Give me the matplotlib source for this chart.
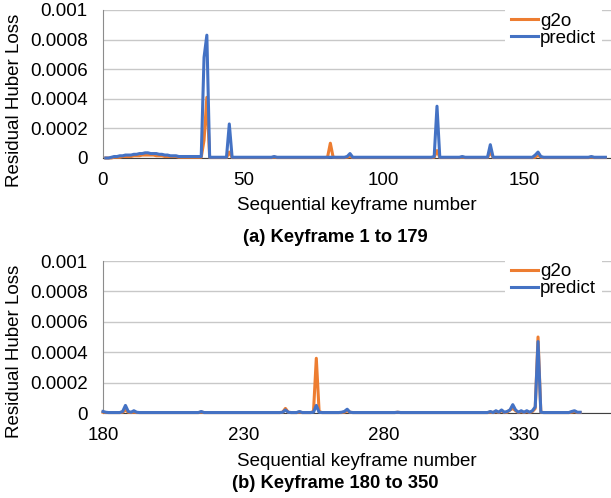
"""Residual Huber loss per keyframe: g2o vs predict, two panels."""

import matplotlib
matplotlib.use("Agg")
import matplotlib.pyplot as plt
import numpy as np

# values are in units of 1e-5
SCALE = 1e-5

top_keyframes = np.arange(1, 180)
top_g2o = [
    0, 0, 0, 0.5, 0.5, 0.5, 1, 1, 1, 1,
    1.5, 1.5, 1.5, 2, 2, 2, 2, 2, 1.5, 1.5,
    1.5, 1, 1, 1, 1, 1, 0.5, 0.5, 0.5, 0.5,
    0.5, 0.5, 0.5, 0.5, 0.5, 12, 41, 0.3, 0.3, 0.3,
    0.3, 0.3, 0.3, 0.3, 4, 0.3, 0.3, 0.3, 0.3, 0.3,
    0.3, 0.3, 0.3, 0.3, 0.3, 0.3, 0.3, 0.3, 0.3, 0.3,
    0.5, 0.3, 0.3, 0.3, 0.3, 0.3, 0.3, 0.3, 0.3, 0.3,
    0.3, 0.3, 0.3, 0.3, 0.3, 0.3, 0.3, 0.3, 0.3, 0.5,
    10, 0.5, 0.3, 0.3, 0.3, 0.3, 0.5, 1, 0.3, 0.3,
    0.3, 0.3, 0.3, 0.3, 0.3, 0.3, 0.3, 0.3, 0.3, 0.3,
    0.3, 0.3, 0.3, 0.3, 0.3, 0.3, 0.3, 0.3, 0.3, 0.3,
    0.3, 0.3, 0.3, 0.3, 0.3, 0.3, 0.3, 0.5, 5, 0.3,
    0.3, 0.3, 0.3, 0.3, 0.3, 0.3, 0.3, 0.5, 0.3, 0.3,
    0.3, 0.3, 0.3, 0.3, 0.3, 0.3, 0.3, 4, 0.3, 0.3,
    0.3, 0.3, 0.3, 0.3, 0.3, 0.3, 0.3, 0.3, 0.3, 0.3,
    0.3, 0.3, 0.3, 0.5, 2, 0.5, 0.3, 0.3, 0.3, 0.3,
    0.3, 0.3, 0.3, 0.3, 0.3, 0.3, 0.3, 0.3, 0.3, 0.3,
    0.3, 0.3, 0.3, 0.5, 0.3, 0.3, 0.3, 0.3, 0.3,
]
top_predict = [
    0, 0, 0.5, 1, 1, 1.5, 1.5, 2, 2, 2,
    2.5, 2.5, 3, 3, 3.5, 3.5, 3, 3, 3, 2.5,
    2.5, 2, 2, 1.5, 1.5, 1.5, 1, 1, 1, 1,
    1, 1, 1, 1, 1, 68, 83, 0.5, 0.5, 0.5,
    0.5, 0.5, 0.5, 0.5, 23, 0.5, 0.5, 0.5, 0.5, 0.5,
    0.5, 0.5, 0.5, 0.5, 0.5, 0.5, 0.5, 0.5, 0.5, 0.5,
    1, 0.5, 0.5, 0.5, 0.5, 0.5, 0.5, 0.5, 0.5, 0.5,
    0.5, 0.5, 0.5, 0.5, 0.5, 0.5, 0.5, 0.5, 0.5, 0.5,
    0.5, 0.5, 0.5, 0.5, 0.5, 0.5, 1, 3, 0.5, 0.5,
    0.5, 0.5, 0.5, 0.5, 0.5, 0.5, 0.5, 0.5, 0.5, 0.5,
    0.5, 0.5, 0.5, 0.5, 0.5, 0.5, 0.5, 0.5, 0.5, 0.5,
    0.5, 0.5, 0.5, 0.5, 0.5, 0.5, 0.5, 1, 35, 0.5,
    0.5, 0.5, 0.5, 0.5, 0.5, 0.5, 0.5, 1, 0.5, 0.5,
    0.5, 0.5, 0.5, 0.5, 0.5, 0.5, 0.5, 9, 0.5, 0.5,
    0.5, 0.5, 0.5, 0.5, 0.5, 0.5, 0.5, 0.5, 0.5, 0.5,
    0.5, 0.5, 0.5, 2, 4, 1, 0.5, 0.5, 0.5, 0.5,
    0.5, 0.5, 0.5, 0.5, 0.5, 0.5, 0.5, 0.5, 0.5, 0.5,
    0.5, 0.5, 0.5, 1, 0.5, 0.5, 0.5, 0.5, 0.5,
]

bottom_keyframes = np.arange(180, 351)
bottom_g2o = [
    0.5, 0.3, 0.3, 0.3, 0.3, 0.3, 0.3, 0.5, 2, 0.5,
    0.3, 0.5, 0.3, 0.3, 0.3, 0.3, 0.3, 0.3, 0.3, 0.3,
    0.3, 0.3, 0.3, 0.3, 0.3, 0.3, 0.3, 0.3, 0.3, 0.3,
    0.3, 0.3, 0.3, 0.3, 0.3, 0.5, 0.3, 0.3, 0.3, 0.3,
    0.3, 0.3, 0.3, 0.3, 0.3, 0.3, 0.3, 0.3, 0.3, 0.3,
    0.3, 0.3, 0.3, 0.3, 0.3, 0.3, 0.3, 0.3, 0.3, 0.3,
    0.3, 0.3, 0.3, 0.3, 0.5, 3, 0.5, 0.3, 0.3, 0.3,
    0.5, 0.3, 0.3, 0.3, 0.3, 1, 36, 1, 0.3, 0.3,
    0.3, 0.3, 0.3, 0.3, 0.3, 0.3, 0.5, 1.5, 0.5, 0.3,
    0.3, 0.3, 0.3, 0.3, 0.3, 0.3, 0.3, 0.3, 0.3, 0.3,
    0.3, 0.3, 0.3, 0.3, 0.3, 0.5, 0.3, 0.3, 0.3, 0.3,
    0.3, 0.3, 0.3, 0.3, 0.3, 0.3, 0.3, 0.3, 0.3, 0.3,
    0.3, 0.3, 0.3, 0.3, 0.3, 0.3, 0.3, 0.3, 0.3, 0.3,
    0.3, 0.3, 0.3, 0.3, 0.3, 0.3, 0.3, 0.3, 0.5, 0.3,
    1, 0.3, 1.5, 0.3, 0.5, 2, 3, 1.5, 0.3, 1,
    0.3, 1, 0.3, 1, 3, 50, 0.5, 0.3, 0.3, 0.3,
    0.3, 0.3, 0.3, 0.3, 0.3, 0.3, 0.3, 0.5, 1, 0.3,
    0.3,
]
bottom_predict = [
    1, 0.5, 0.3, 0.3, 0.3, 0.3, 0.3, 1, 5, 1,
    0.5, 1.5, 0.5, 0.3, 0.3, 0.3, 0.3, 0.3, 0.3, 0.3,
    0.3, 0.3, 0.3, 0.3, 0.3, 0.3, 0.3, 0.3, 0.3, 0.3,
    0.3, 0.3, 0.3, 0.3, 0.3, 1, 0.3, 0.3, 0.3, 0.3,
    0.3, 0.3, 0.3, 0.3, 0.3, 0.3, 0.3, 0.3, 0.3, 0.3,
    0.3, 0.3, 0.3, 0.3, 0.3, 0.3, 0.3, 0.3, 0.3, 0.3,
    0.3, 0.3, 0.3, 0.3, 0.5, 2, 0.5, 0.3, 0.3, 0.3,
    1, 0.3, 0.3, 0.3, 0.3, 0.5, 5, 0.5, 0.3, 0.3,
    0.3, 0.3, 0.3, 0.3, 0.3, 0.5, 1, 2.5, 0.5, 0.3,
    0.3, 0.3, 0.3, 0.3, 0.3, 0.3, 0.3, 0.3, 0.3, 0.3,
    0.3, 0.3, 0.3, 0.3, 0.3, 0.5, 0.3, 0.3, 0.3, 0.3,
    0.3, 0.3, 0.3, 0.3, 0.3, 0.3, 0.3, 0.3, 0.3, 0.3,
    0.3, 0.3, 0.3, 0.3, 0.3, 0.3, 0.3, 0.3, 0.3, 0.3,
    0.3, 0.3, 0.3, 0.3, 0.3, 0.3, 0.3, 0.3, 1, 0.3,
    1.5, 0.5, 2, 0.5, 1, 2, 5.5, 2, 0.5, 1.5,
    0.5, 1.5, 0.5, 1.5, 4, 47, 0.5, 0.3, 0.3, 0.3,
    0.3, 0.3, 0.3, 0.3, 0.3, 0.3, 0.3, 1, 1.5, 0.5,
    0.5,
]

y_ticks = [0, 0.0002, 0.0004, 0.0006, 0.0008, 0.001]
y_tick_labels = ["0", "0.0002", "0.0004", "0.0006", "0.0008", "0.001"]
top_x_ticks = [0, 50, 100, 150]
bottom_x_ticks = [180, 230, 280, 330]
series_names = ["g2o", "predict"]
panel_titles = ["(a) Keyframe 1 to 179", "(b) Keyframe 180 to 350"]

ORANGE = "#ED7D31"
BLUE = "#4472C4"
W, H = 611, 498

plt.rcParams["font.family"] = ["Liberation Sans", "DejaVu Sans"]
plt.rcParams["font.size"] = 13.5

fig = plt.figure(figsize=(W / 100, H / 100), dpi=100)


def make_axes(top_px, bottom_px):
    return fig.add_axes([103 / W, 1 - bottom_px / H, (W - 103) / W, (bottom_px - top_px) / H])


def draw_panel(axis, keyframes, g2o, predict, x_ticks, x_range):
    axis.plot(keyframes, np.asarray(g2o) * SCALE, color=ORANGE, linewidth=2.2,
              label=series_names[0], zorder=3, clip_on=False)
    axis.plot(keyframes, np.asarray(predict) * SCALE, color=BLUE, linewidth=2.2,
              label=series_names[1], zorder=4, clip_on=False)
    axis.set_xlim(*x_range)
    axis.set_ylim(0, 0.001)
    axis.set_yticks(y_ticks)
    axis.set_yticklabels(y_tick_labels)
    axis.set_xticks(x_ticks)
    axis.tick_params(length=0)
    axis.tick_params(axis="y", pad=11)
    axis.tick_params(axis="x", pad=10)
    axis.grid(axis="y", color="#c8c8c8", linewidth=1)
    axis.set_axisbelow(True)
    for side in ("top", "right"):
        axis.spines[side].set_visible(False)
    axis.spines["left"].set_color("#8c8c8c")
    axis.spines["bottom"].set_color("#404040")
    axis.set_ylabel("Residual Huber Loss", va="center")
    axis.set_xlabel("Sequential keyframe number", va="center")
    legend = axis.legend(loc="upper right", bbox_to_anchor=(1.0, 1.085), frameon=True,
                         handlelength=1.45, handletextpad=0.1, labelspacing=0.0,
                         borderpad=0.3, fontsize=13.5)
    legend.get_frame().set_facecolor("white")
    legend.get_frame().set_edgecolor("none")
    legend.get_frame().set_alpha(1)
    legend.set_zorder(5)


ax_top = make_axes(10, 158)
draw_panel(ax_top, top_keyframes, top_g2o, top_predict, top_x_ticks, (0, 181))
ax_top.xaxis.set_label_coords(0.5, (158 - 206) / 148)
ax_top.yaxis.set_label_coords((15 - 103) / 508, (158 - 100) / 148)

ax_bottom = make_axes(261, 413)
draw_panel(ax_bottom, bottom_keyframes, bottom_g2o, bottom_predict, bottom_x_ticks, (180, 361))
ax_bottom.xaxis.set_label_coords(0.5, (413 - 461) / 152)
ax_bottom.yaxis.set_label_coords((15 - 103) / 508, (413 - 351) / 152)

fig.text(335 / W, 1 - 237 / H, panel_titles[0], ha="center", va="center",
         fontweight="bold", fontsize=13.2)
fig.text(335 / W, 1 - 483 / H, panel_titles[1], ha="center", va="center",
         fontweight="bold", fontsize=13.2)

fig.savefig("out.png", dpi=100)
